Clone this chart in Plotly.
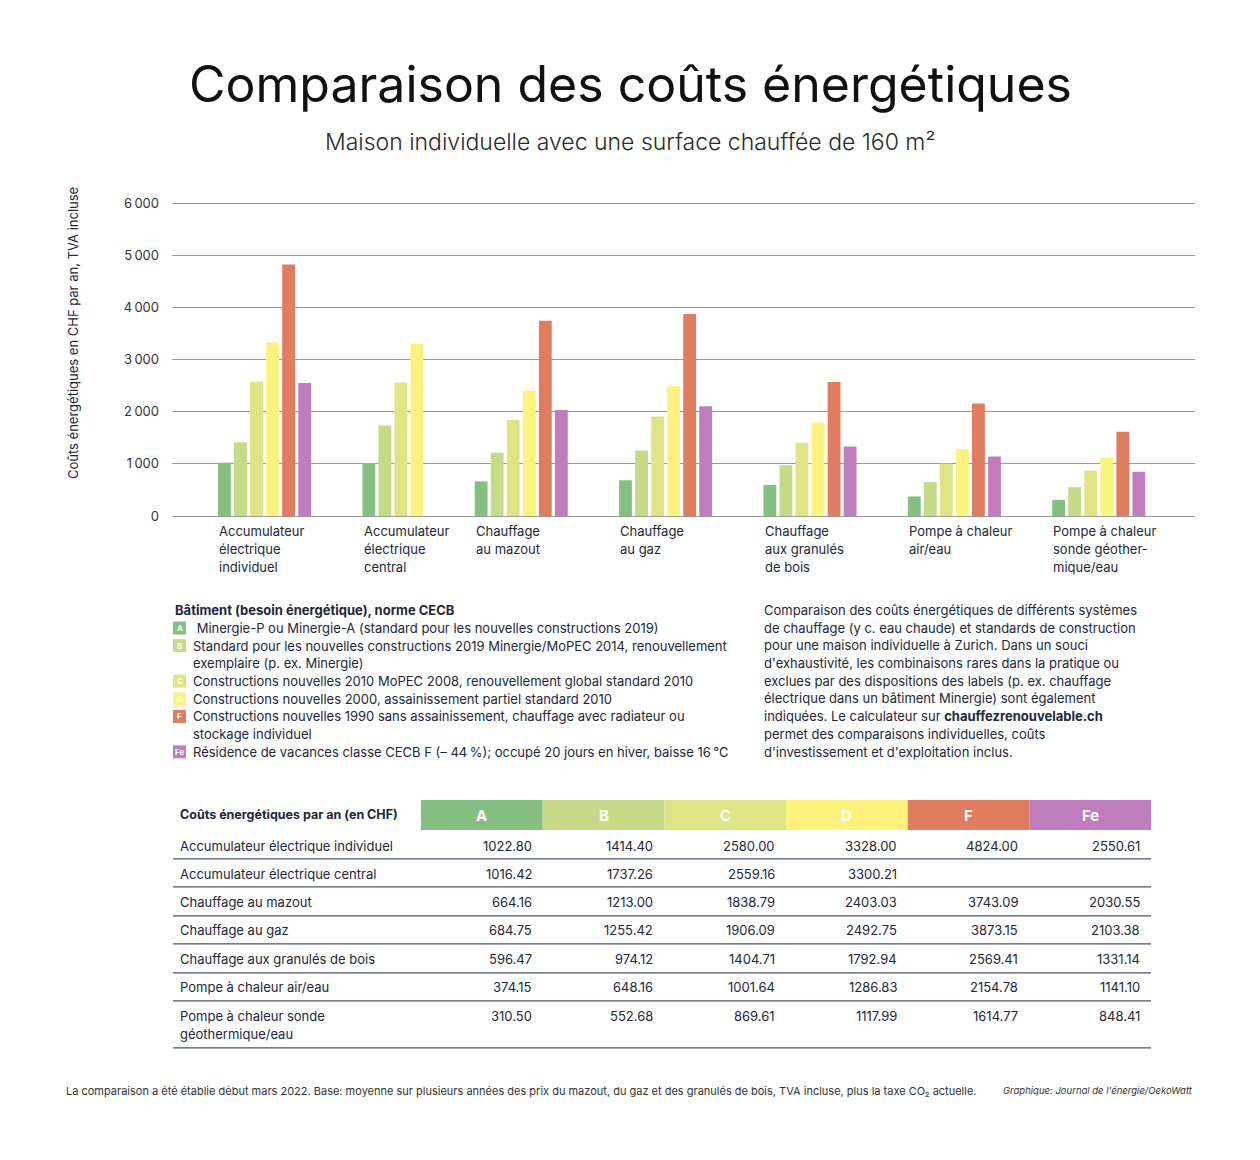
import plotly.graph_objects as go

# ---------------- data ----------------
title = "Comparaison des coûts énergétiques"
subtitle = "Maison individuelle avec une surface chauffée de 160 m²"
y_title = "Coûts énergétiques en CHF par an, TVA incluse"

systems_axis = ["Accumulateur<br>électrique<br>individuel", "Accumulateur<br>électrique<br>central",
                "Chauffage<br>au mazout", "Chauffage<br>au gaz", "Chauffage<br>aux granulés<br>de bois",
                "Pompe à chaleur<br>air/eau", "Pompe à chaleur<br>sonde géother-<br>mique/eau"]
systems_table = ["Accumulateur électrique individuel", "Accumulateur électrique central",
                 "Chauffage au mazout", "Chauffage au gaz", "Chauffage aux granulés de bois",
                 "Pompe à chaleur air/eau", "Pompe à chaleur sonde<br>géothermique/eau"]
classes = ["A", "B", "C", "D", "F", "Fe"]
colors = ["#86bf82", "#c5db88", "#dfe484", "#fdf27e", "#e07d61", "#c07dbd"]

cost_A = [1022.80, 1016.42, 664.16, 684.75, 596.47, 374.15, 310.50]
cost_B = [1414.40, 1737.26, 1213.00, 1255.42, 974.12, 648.16, 552.68]
cost_C = [2580.00, 2559.16, 1838.79, 1906.09, 1404.71, 1001.64, 869.61]
cost_D = [3328.00, 3300.21, 2403.03, 2492.75, 1792.94, 1286.83, 1117.99]
cost_F = [4824.00, None, 3743.09, 3873.15, 2569.41, 2154.78, 1614.77]
cost_Fe = [2550.61, None, 2030.55, 2103.38, 1331.14, 1141.10, 848.41]

y_tickvals = [0, 1000, 2000, 3000, 4000, 5000, 6000]
y_ticktext = ["0", "1\u2009000", "2\u2009000", "3\u2009000", "4\u2009000", "5\u2009000", "6\u2009000"]

legend_title = "Bâtiment (besoin énergétique), norme CECB"
legend_text = [
    " Minergie-P ou Minergie-A (standard pour les nouvelles constructions 2019)",
    "Standard pour les nouvelles constructions 2019 Minergie/MoPEC 2014, renouvellement<br>exemplaire (p. ex. Minergie)",
    "Constructions nouvelles 2010 MoPEC 2008, renouvellement global standard 2010",
    "Constructions nouvelles 2000, assainissement partiel standard 2010",
    "Constructions nouvelles 1990 sans assainissement, chauffage avec radiateur ou<br>stockage individuel",
    "Résidence de vacances classe CECB F (– 44\u202f%); occupé 20 jours en hiver, baisse 16\u202f°C",
]
note_lines = [
    "Comparaison des coûts énergétiques de différents systèmes",
    "de chauffage (y c. eau chaude) et standards de construction",
    "pour une maison individuelle à Zurich. Dans un souci",
    "d'exhaustivité, les combinaisons rares dans la pratique ou",
    "exclues par des dispositions des labels (p. ex. chauffage",
    "électrique dans un bâtiment Minergie) sont également",
    "indiquées. Le calculateur sur <b>chauffezrenouvelable.ch</b>",
    "permet des comparaisons individuelles, coûts",
    "d'investissement et d'exploitation inclus.",
]
table_header = "Coûts énergétiques par an (en CHF)"
footnote = ("La comparaison a été établie début mars 2022. Base: moyenne sur plusieurs années des prix du mazout, "
            "du gaz et des granulés de bois, TVA incluse, plus la taxe CO₂ actuelle.")
source = "Graphique: Journal de l'énergie/OekoWatt"

# ---------------- layout helpers ----------------
W, H = 1260, 1160
Y_MAX = 6020
PL, PR, PB = 172, 1195, 516           # plot area in pixels
PT = PB - (PB - 203) * Y_MAX / 6000   # top of plot so that 6000 sits at y=203


def px(x):
    return (x - PL) / (PR - PL)


def py(y):
    return (PB - y) / (PB - PT)


TXT = "#222838"
FONT = "Inter"
series = [cost_A, cost_B, cost_C, cost_D, cost_F, cost_Fe]

# bar positions: consecutive slots within a group, gap between groups
GROUP_GAP = 3
xs = [[] for _ in classes]
ys = [[] for _ in classes]
group_start = []
cursor = 0
for g in range(len(systems_axis)):
    group_start.append(cursor)
    for k, s in enumerate(series):
        if s[g] is None:
            continue
        xs[k].append(cursor)
        ys[k].append(s[g])
        cursor += 1
    cursor += GROUP_GAP

fig = go.Figure()
for k, c in enumerate(classes):
    fig.add_trace(go.Bar(x=xs[k], y=ys[k], name=c, marker=dict(color=colors[k], line=dict(width=0)),
                         width=0.8, showlegend=False))

ann = []
shapes = []

# group labels
for g, lab in enumerate(systems_axis):
    for i, line in enumerate(lab.split("<br>")):
        ann.append(dict(x=group_start[g] - 0.45, xref="x", y=py(531 + i * 18), yref="paper",
                        text=line, showarrow=False, xanchor="left", yanchor="middle",
                        font=dict(family=FONT, size=13, color=TXT)))

# title, subtitle, axis title
ann.append(dict(x=px(630), y=py(84), xref="paper", yref="paper", text=title, showarrow=False,
                xanchor="center", yanchor="middle", font=dict(family=FONT, size=50, color="#111111")))
ann.append(dict(x=px(630), y=py(142), xref="paper", yref="paper", text=subtitle, showarrow=False,
                xanchor="center", yanchor="middle", font=dict(family=FONT, size=23, color="#2a2a2a", weight=300)))
ann.append(dict(x=px(73), y=py(333), xref="paper", yref="paper", text=y_title, showarrow=False,
                textangle=-90, xanchor="center", yanchor="middle", font=dict(family=FONT, size=13, color=TXT)))

# legend block
ann.append(dict(x=px(173), y=py(610), xref="paper", yref="paper", text="<b>" + legend_title + "</b>",
                showarrow=False, xanchor="left", yanchor="middle", font=dict(family=FONT, size=13, color=TXT)))
LS = 17.7
line_y = 628
for k, txt in enumerate(legend_text):
    shapes.append(dict(type="rect", xref="paper", yref="paper", x0=px(173), x1=px(186),
                       y0=py(line_y - 6.5), y1=py(line_y + 6.5), fillcolor=colors[k], line=dict(width=0)))
    ann.append(dict(x=px(179.5), y=py(line_y), xref="paper", yref="paper", text="<b>" + classes[k] + "</b>",
                    showarrow=False, xanchor="center", yanchor="middle",
                    font=dict(family=FONT, size=8, color="white")))
    for i, line in enumerate(txt.split("<br>")):
        ann.append(dict(x=px(191), y=py(line_y), xref="paper", yref="paper", text=line, showarrow=False,
                        xanchor="left", yanchor="middle", font=dict(family=FONT, size=13, color=TXT)))
        line_y += LS

# explanatory paragraph
for i, line in enumerate(note_lines):
    ann.append(dict(x=px(762), y=py(610 + i * LS), xref="paper", yref="paper", text=line, showarrow=False,
                    xanchor="left", yanchor="middle", font=dict(family=FONT, size=13, color=TXT)))

# table
TX0, TX1 = 421, 1151
CW = (TX1 - TX0) / len(classes)
HY0, HY1 = 800, 830
ann.append(dict(x=px(178), y=py(815), xref="paper", yref="paper", text="<b>" + table_header + "</b>",
                showarrow=False, xanchor="left", yanchor="middle", font=dict(family=FONT, size=12.5, color=TXT)))
for k, c in enumerate(classes):
    shapes.append(dict(type="rect", xref="paper", yref="paper", x0=px(TX0 + k * CW), x1=px(TX0 + (k + 1) * CW),
                       y0=py(HY1), y1=py(HY0), fillcolor=colors[k], line=dict(width=0)))
    ann.append(dict(x=px(TX0 + (k + 0.5) * CW), y=py(816), xref="paper", yref="paper", text="<b>" + c + "</b>",
                    showarrow=False, xanchor="center", yanchor="middle",
                    font=dict(family=FONT, size=15, color="white")))

row_y = [846, 874, 902, 930, 959, 987, 1016]
line_ys = [859, 887, 916, 944, 973, 1001, 1048]
for r, lab in enumerate(systems_table):
    for i, line in enumerate(lab.split("<br>")):
        ann.append(dict(x=px(178), y=py(row_y[r] + i * 18), xref="paper", yref="paper", text=line,
                        showarrow=False, xanchor="left", yanchor="middle",
                        font=dict(family=FONT, size=13, color=TXT)))
    for k, s in enumerate(series):
        v = s[r]
        if v is None:
            continue
        ann.append(dict(x=px(TX0 + (k + 1) * CW - 9), y=py(row_y[r]), xref="paper", yref="paper",
                        text=f"{v:.2f}", showarrow=False, xanchor="right", yanchor="middle",
                        font=dict(family=FONT, size=13, color=TXT)))
    shapes.append(dict(type="line", xref="paper", yref="paper", x0=px(173), x1=px(TX1),
                       y0=py(line_ys[r]), y1=py(line_ys[r]), line=dict(color="#4a5272", width=1.2)))

# footnote and source
ann.append(dict(x=px(64), y=py(1091), xref="paper", yref="paper", text=footnote, showarrow=False,
                xanchor="left", yanchor="middle", font=dict(family=FONT, size=11, color="#333333")))
ann.append(dict(x=px(1195), y=py(1091), xref="paper", yref="paper", text="<i>" + source + "</i>", showarrow=False,
                xanchor="right", yanchor="middle", font=dict(family=FONT, size=9.5, color="#333333")))

fig.update_layout(
    width=W, height=H,
    margin=dict(l=PL, r=W - PR, t=PT, b=H - PB),
    paper_bgcolor="white", plot_bgcolor="white",
    barmode="overlay",
    font=dict(family=FONT, color=TXT),
    annotations=ann, shapes=shapes,
    xaxis=dict(range=[-3.27, 60.5], showticklabels=False, showgrid=False, zeroline=False, showline=False,
               ticks=""),
    yaxis=dict(range=[0, Y_MAX], tickvals=y_tickvals, ticktext=y_ticktext, showgrid=True,
               gridcolor="#9a9a9a", gridwidth=1, zeroline=True, zerolinecolor="#9a9a9a", zerolinewidth=1,
               showline=False, ticks="", ticklabelstandoff=12,
               tickfont=dict(family=FONT, size=13, color="#333333")),
)

fig.write_html("out.html", post_script="document.body.style.margin='0';",
               config={"displayModeBar": False})
